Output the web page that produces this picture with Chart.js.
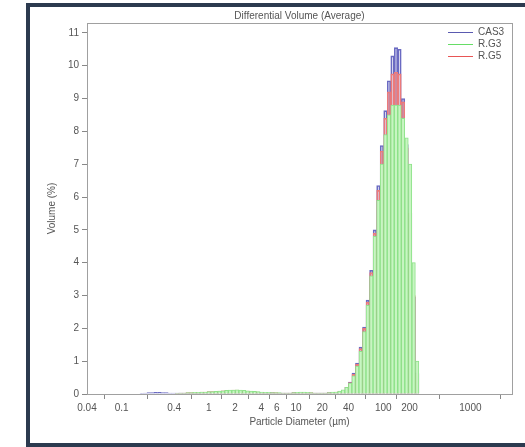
<!DOCTYPE html>
<html>
<head>
<meta charset="utf-8">
<script src="https://cdn.jsdelivr.net/npm/chart.js@4"></script>
<style>
  body { margin: 0; background: #fff; }
  #frame {
    position: absolute; left: 26px; top: 3px; width: 520px; height: 436px;
    border-left: 4px solid #2c3a4f; border-top: 4px solid #2c3a4f; border-bottom: 4px solid #2c3a4f;
  }
  #wrap { position: absolute; left: 0; top: 0; width: 525px; height: 447px; }
</style>
</head>
<body>
<div id="frame"></div>
<div id="wrap"><canvas id="chart" width="525" height="447"></canvas></div>
<script>
// channel lower edges (um)
const diam = [0.040, 0.044, 0.048, 0.053, 0.058, 0.064, 0.070, 0.077, 0.084, 0.093,
  0.102, 0.112, 0.122, 0.134, 0.148, 0.162, 0.178, 0.195, 0.214, 0.235,
  0.258, 0.284, 0.311, 0.342, 0.375, 0.412, 0.452, 0.496, 0.545, 0.598,
  0.657, 0.721, 0.791, 0.869, 0.953, 1.047, 1.149, 1.261, 1.385, 1.520,
  1.669, 1.832, 2.010, 2.207, 2.423, 2.660, 2.920, 3.205, 3.519, 3.862,
  4.240, 4.655, 5.110, 5.610, 6.158, 6.760, 7.421, 8.147, 8.943, 9.818,
  10.78, 11.83, 12.99, 14.26, 15.65, 17.18, 18.86, 20.71, 22.73, 24.95,
  27.39, 30.07, 33.01, 36.24, 39.78, 43.67, 47.94, 52.62, 57.77, 63.41,
  69.61, 76.42, 83.89, 92.09, 101.1, 111.0, 121.8, 133.7, 146.8, 161.2,
  176.8, 194.2, 213.2, 234.1, 256.9, 282.1];

const cas3 = [0, 0, 0, 0, 0, 0, 0, 0, 0, 0,
  0, 0, 0, 0, 0, 0.02, 0.03, 0.04, 0.04, 0.05,
  0.05, 0.04, 0.04, 0.03, 0.03, 0.03, 0.03, 0.03, 0.03, 0.03,
  0.04, 0.04, 0.05, 0.05, 0.06, 0.06, 0.07, 0.08, 0.09, 0.10,
  0.10, 0.11, 0.11, 0.10, 0.09, 0.08, 0.07, 0.06, 0.05, 0.05,
  0.04, 0.04, 0.04, 0.03, 0.03, 0.03, 0.03, 0.03, 0.04, 0.04,
  0.05, 0.05, 0.04, 0.03, 0.03, 0.03, 0.03, 0.03, 0.04, 0.05,
  0.05, 0.07, 0.10, 0.20, 0.36, 0.64, 0.94, 1.43, 2.04, 2.86,
  3.77, 5.00, 6.35, 7.57, 8.63, 9.54, 10.30, 10.55, 10.50, 9.00,
  7.60, 5.50, 2.95, 0.64, 0];

const rg3 = [0, 0, 0, 0, 0, 0, 0, 0, 0, 0,
  0, 0, 0, 0, 0, 0, 0, 0, 0, 0,
  0, 0, 0, 0, 0, 0.02, 0.03, 0.03, 0.04, 0.04,
  0.05, 0.05, 0.06, 0.06, 0.07, 0.07, 0.08, 0.09, 0.10, 0.11,
  0.12, 0.12, 0.13, 0.12, 0.11, 0.10, 0.09, 0.08, 0.07, 0.06,
  0.05, 0.05, 0.04, 0.04, 0.04, 0.03, 0.03, 0.03, 0.04, 0.05,
  0.06, 0.06, 0.05, 0.04, 0.03, 0.03, 0.03, 0.03, 0.04, 0.06,
  0.06, 0.09, 0.13, 0.20, 0.33, 0.55, 0.85, 1.30, 1.90, 2.70,
  3.60, 4.80, 5.90, 7.00, 7.90, 8.50, 8.80, 8.80, 8.80, 8.40,
  7.80, 7.00, 4.00, 1.00, 0];

const rg5 = [0, 0, 0, 0, 0, 0, 0, 0, 0, 0,
  0, 0, 0, 0, 0, 0, 0, 0, 0, 0,
  0, 0, 0, 0, 0, 0.02, 0.03, 0.03, 0.04, 0.04,
  0.05, 0.05, 0.06, 0.06, 0.07, 0.07, 0.08, 0.09, 0.10, 0.11,
  0.11, 0.12, 0.12, 0.11, 0.10, 0.09, 0.08, 0.07, 0.06, 0.05,
  0.05, 0.04, 0.04, 0.04, 0.03, 0.03, 0.03, 0.03, 0.04, 0.05,
  0.05, 0.05, 0.04, 0.04, 0.03, 0.03, 0.03, 0.03, 0.04, 0.05,
  0.06, 0.08, 0.11, 0.20, 0.35, 0.60, 0.90, 1.38, 2.00, 2.80,
  3.70, 4.90, 6.20, 7.40, 8.40, 9.20, 9.75, 9.80, 9.75, 8.90,
  7.50, 5.50, 3.00, 0.60, 0];

const xTicks = [0.04, 0.1, 0.4, 1, 2, 4, 6, 10, 20, 40, 100, 200, 1000];
const yTicks = [0, 1, 2, 3, 4, 5, 6, 7, 8, 9, 10, 11];

function toPoints(vals){
  return vals.map((v, i) => ({x: Math.sqrt(diam[i] * diam[i + 1]), y: v}));
}

const font = {family: 'Liberation Sans, Arial, sans-serif', size: 10};
const textColor = '#555';

// plot frame + legend drawn inside the chart area
const framePlugin = {
  id: 'framePlugin',
  afterDraw(chart){
    const {ctx, chartArea: a} = chart;
    ctx.save();
    ctx.strokeStyle = '#a0a0a0';
    ctx.lineWidth = 1;
    ctx.strokeRect(a.left + 0.5, a.top + 0.5, a.right - a.left, a.bottom - a.top);
    ctx.font = '10px ' + font.family;
    ctx.textBaseline = 'middle';
    chart.data.datasets.forEach((ds, i) => {
      const y = a.top + 9.5 + i * 12;
      const x = a.right - 64;
      ctx.strokeStyle = ds.legendColor;
      ctx.beginPath();
      ctx.moveTo(x, y);
      ctx.lineTo(x + 25, y);
      ctx.stroke();
      ctx.fillStyle = textColor;
      ctx.fillText(ds.label, x + 30, y);
    });
    ctx.restore();
  }
};

new Chart(document.getElementById('chart'), {
  type: 'bar',
  data: {
    datasets: [
      {label: 'CAS3', data: toPoints(cas3), order: 2, borderColor: '#6a6ac2', legendColor: '#5a5ab0',
        backgroundColor: 'rgba(0,0,0,0)', borderWidth: 1},
      {label: 'R.G3', data: toPoints(rg3), order: 0, borderColor: '#8ee28a', legendColor: '#66dd66',
        backgroundColor: '#c8f5c2', borderWidth: 1},
      {label: 'R.G5', data: toPoints(rg5), order: 1, borderColor: '#ec7a7a', legendColor: '#e85555',
        backgroundColor: 'rgba(0,0,0,0)', borderWidth: 1}
    ]
  },
  options: {
    responsive: false,
    animation: false,
    grouped: false,
    barPercentage: 1,
    categoryPercentage: 1,
    layout: {padding: {left: 0, right: 13, top: 0, bottom: 0}},
    plugins: {legend: {display: false}, tooltip: {enabled: false}},
    scales: {
      x: {
        type: 'logarithmic', min: 0.04, max: 3000, position: 'bottom',
        afterFit(s){ s.height = 53; },
        afterBuildTicks(s){ s.ticks = xTicks.map(v => ({value: v})); },
        grid: {drawOnChartArea: false, drawTicks: true, tickLength: 5, tickColor: '#888'},
        border: {display: true, color: '#888'},
        ticks: {color: textColor, font: font, padding: 3, maxRotation: 0, autoSkip: false,
          callback: v => String(v)},
        title: {display: true, text: 'Particle Diameter (µm)', color: textColor, font: font,
          padding: {top: 0, bottom: 19}}
      },
      x2: {
        type: 'logarithmic', min: 0.04, max: 3000, position: 'top',
        afterFit(s){ s.height = 23; },
        grid: {display: false}, border: {display: false},
        ticks: {display: false},
        title: {display: true, text: 'Differential Volume (Average)', color: textColor, font: font,
          padding: {top: 10, bottom: 0}}
      },
      y: {
        type: 'linear', min: 0, max: 11.3,
        afterFit(s){ s.width = 87; },
        afterBuildTicks(s){ s.ticks = yTicks.map(v => ({value: v})); },
        grid: {drawOnChartArea: false, drawTicks: true, tickLength: 5, tickColor: '#888'},
        border: {display: true, color: '#888'},
        ticks: {color: textColor, font: font, padding: 3},
        title: {display: true, text: 'Volume (%)', color: textColor, font: font,
          padding: {top: 46, bottom: 0}}
      }
    }
  },
  plugins: [framePlugin]
});
</script>
</body>
</html>
